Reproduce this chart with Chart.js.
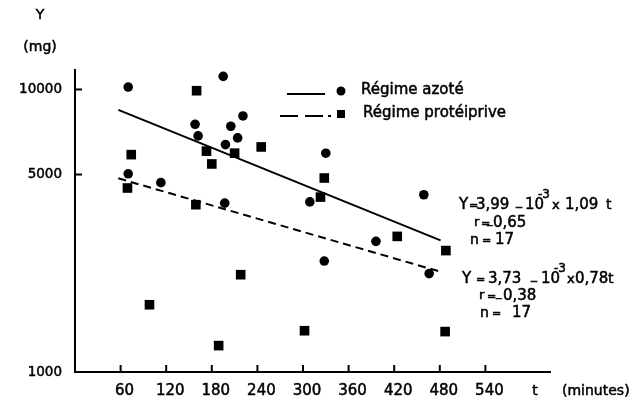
<!DOCTYPE html>
<html>
<head>
<meta charset="utf-8">
<script src="https://cdn.jsdelivr.net/npm/chart.js@4"></script>
<style>
  body { margin: 0; background: #fff; }
  #wrap { width: 637px; height: 404px; }
</style>
</head>
<body>
<div id="wrap"><canvas id="plot" width="637" height="404"></canvas></div>
<script>
// time (minutes) and Y (mg), one pair of arrays per diet
const azoteT = [70, 195, 221, 158, 205, 162, 214, 198, 70, 113, 330, 309, 328, 396, 459, 466, 197];
const azoteY = [10200, 11130, 8060, 7530, 7410, 6850, 6740, 6380, 5030, 4680, 5950, 4000, 2470, 2900, 4240, 2230, 3960];
const protT = [160, 173, 210, 180, 74, 245, 328, 69, 159, 218, 323, 424, 488, 487, 98, 189, 302];
const protY = [9900, 6050, 5950, 5450, 5880, 6260, 4860, 4480, 3910, 2210, 4160, 3020, 2690, 1390, 1730, 1240, 1400];

// log10 Y = a - b * t for each diet
const fitA = [3.99, 3.73];
const fitB = [1.09e-3, 0.78e-3];
const fitRange = [57, 481];

const xTicks = [60, 120, 180, 240, 300, 360, 420, 480, 540];
const yTicks = [1000, 5000, 10000];

const FONT = '"DejaVu Sans", sans-serif';

function pts(ts, ys) {
    return ts.map((t, i) => ({ x: t, y: ys[i] }));
}
function fitLine(k) {
    return fitRange.map(t => ({ x: t, y: Math.pow(10, fitA[k] - fitB[k] * t) }));
}

// inward tick marks, legend and the written equations
const extras = {
    id: 'extras',
    afterDraw(chart) {
        const ctx = chart.ctx;
        const area = chart.chartArea;
        const xs = chart.scales.x, ys = chart.scales.y;
        ctx.save();
        ctx.strokeStyle = '#000';
        ctx.fillStyle = '#000';
        ctx.lineWidth = 2;
        xTicks.forEach(v => {
            const px = xs.getPixelForValue(v);
            ctx.beginPath();
            ctx.moveTo(px, area.bottom);
            ctx.lineTo(px, area.bottom - 7);
            ctx.stroke();
        });
        yTicks.forEach(v => {
            const py = ys.getPixelForValue(v);
            ctx.beginPath();
            ctx.moveTo(area.left, py);
            ctx.lineTo(area.left + 7, py);
            ctx.stroke();
        });

        // legend
        ctx.beginPath();
        ctx.moveTo(287, 94); ctx.lineTo(325, 94);
        ctx.stroke();
        ctx.beginPath();
        ctx.arc(341, 91, 4.5, 0, Math.PI * 2);
        ctx.fill();
        ctx.beginPath();
        ctx.moveTo(280, 116); ctx.lineTo(298, 116);
        ctx.moveTo(305, 116); ctx.lineTo(323, 116);
        ctx.moveTo(328, 116); ctx.lineTo(331, 116);
        ctx.stroke();
        ctx.fillRect(337, 110, 8, 8);

        // text, slightly thickened with a thin outline
        ctx.lineWidth = 0.5;
        const put = (s, x, y, size) => {
            ctx.font = (size || 15) + 'px ' + FONT;
            ctx.fillText(s, x, y);
            ctx.strokeText(s, x, y);
        };
        ctx.textBaseline = 'middle';
        ctx.textAlign = 'left';
        put('Régime azoté', 361, 90);
        put('Régime protéiprive', 363, 113);

        // axis titles
        ctx.textAlign = 'center';
        put('Y', 40, 15, 14);
        put('(mg)', 40, 47, 14);
        put('t', 535, 391, 14);
        ctx.textAlign = 'left';
        put('(minutes)', 562, 391, 14);

        // equations
        put('Y', 459, 205); put('=', 469, 206, 11); put('3,99', 476, 205);
        put('_', 516, 202, 12); put('10', 525, 205); put('-3', 538, 195, 12);
        put('x', 552, 206, 13); put('1,09', 565, 205); put('t', 606, 205, 14);
        put('r', 474, 223, 13); put('=', 481, 224, 11); put('_', 487, 220, 11); put('0,65', 493, 223);
        put('n', 470, 240, 14); put('=', 482, 241, 11); put('17', 495, 240);

        put('Y', 462, 279); put('=', 476, 280, 11); put('3,73', 488, 279);
        put('_', 531, 276, 12); put('10', 541, 279); put('-3', 554, 269, 12);
        put('x', 567, 280, 13); put('0,78', 575, 279); put('t', 608, 279, 14);
        put('r', 479, 296, 13); put('=', 487, 297, 11); put('_', 496, 293, 11); put('0,38', 503, 296);
        put('n', 480, 313, 14); put('=', 492, 314, 11); put('17', 512, 313);
        ctx.restore();
    }
};

new Chart(document.getElementById('plot'), {
    type: 'scatter',
    data: {
        datasets: [
            {
                label: 'Régime azoté',
                data: pts(azoteT, azoteY),
                pointStyle: 'circle',
                pointRadius: 4.8,
                backgroundColor: '#000',
                borderWidth: 0
            },
            {
                label: 'Régime protéiprive',
                data: pts(protT, protY),
                pointStyle: 'rect',
                pointRadius: 6.8,
                backgroundColor: '#000',
                borderWidth: 0
            },
            {
                type: 'line',
                data: fitLine(0),
                borderColor: '#000',
                borderWidth: 2,
                pointRadius: 0,
                fill: false
            },
            {
                type: 'line',
                data: fitLine(1),
                borderColor: '#000',
                borderWidth: 2,
                borderDash: [8, 5],
                pointRadius: 0,
                fill: false
            }
        ]
    },
    options: {
        responsive: false,
        animation: false,
        layout: { padding: { top: 70, right: 87, left: 0, bottom: 0 } },
        plugins: {
            legend: { display: false },
            tooltip: { enabled: false }
        },
        scales: {
            x: {
                type: 'linear',
                min: 0,
                max: 625,
                afterBuildTicks: s => { s.ticks = xTicks.map(v => ({ value: v })); },
                afterFit: s => { s.height = 32; },
                grid: { display: true, drawOnChartArea: false, drawTicks: false },
                border: { display: true, color: '#000', width: 2 },
                ticks: {
                    color: '#000',
                    font: { family: FONT, size: 15 },
                    textStrokeColor: '#000',
                    textStrokeWidth: 0.5,
                    padding: 10,
                    labelOffset: 4,
                    maxRotation: 0,
                    callback: v => String(v)
                }
            },
            y: {
                type: 'logarithmic',
                min: 1000,
                max: 11720,
                afterBuildTicks: s => { s.ticks = yTicks.map(v => ({ value: v })); },
                afterFit: s => { s.width = 75; },
                grid: { display: true, drawOnChartArea: false, drawTicks: false },
                border: { display: true, color: '#000', width: 2 },
                ticks: {
                    color: '#000',
                    font: { family: FONT, size: 13.5 },
                    textStrokeColor: '#000',
                    textStrokeWidth: 0.5,
                    padding: 13,
                    callback: v => String(v)
                }
            }
        }
    },
    plugins: [extras]
});
</script>
</body>
</html>
